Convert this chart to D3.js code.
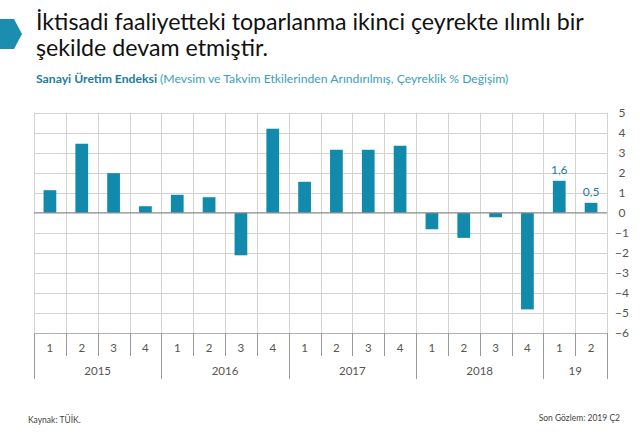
<!DOCTYPE html>
<html>
<head>
<meta charset="utf-8">
<script src="https://cdn.jsdelivr.net/npm/d3@7"></script>
<style>
  html, body { margin: 0; padding: 0; background: #fff; }
  svg { display: block; }
</style>
</head>
<body>
<svg id="chart" width="640" height="436"></svg>
<script>
const years = ["2015", "2016", "2017", "2018", "19"];
const quarters = ["1","2","3","4","1","2","3","4","1","2","3","4","1","2","3","4","1","2"];
const yearOfBar = [0,0,0,0,1,1,1,1,2,2,2,2,3,3,3,3,4,4];
const values = [1.13, 3.45, 1.98, 0.33, 0.9, 0.78, -2.12, 4.2, 1.55, 3.15, 3.15, 3.35, -0.82, -1.25, -0.22, -4.82, 1.6, 0.5];
const labeledBars = [16, 17];
const yTicks = [5,4,3,2,1,0,-1,-2,-3,-4,-5,-6];

const titleLines = ["İktisadi faaliyetteki toparlanma ikinci çeyrekte ılımlı bir", "şekilde devam etmiştir."];
const subtitleBold = "Sanayi Üretim Endeksi";
const subtitleRest = " (Mevsim ve Takvim Etkilerinden Arındırılmış, Çeyreklik % Değişim)";
const sourceText = "Kaynak: TÜİK.";
const lastObs = "Son Gözlem: 2019 Ç2";

const font = "Lato, 'Open Sans', sans-serif";
const teal = "#128aab";
const svg = d3.select("#chart");

// header arrow
svg.append("path")
  .attr("d", "M0,19 L14,19 L22,34 L14,49 L0,49 Z")
  .attr("fill", "#1b8db0");

svg.append("g").selectAll("text").data(titleLines).join("text")
  .attr("x", 36).attr("y", (d, i) => 30 + i * 26)
  .attr("font-family", font).attr("font-size", 23.2).attr("fill", "#111")
  .text(d => d);

const sub = svg.append("text").attr("x", 36).attr("y", 83)
  .attr("font-family", font).attr("font-size", 12.2);
sub.append("tspan").attr("fill", "#1a7c9c").attr("font-weight", "bold").text(subtitleBold);
sub.append("tspan").attr("fill", "#3aa0bd").text(subtitleRest);

const left = 34, right = 607;
const x = d3.scaleBand().domain(d3.range(values.length)).range([left, right]).paddingInner(0).paddingOuter(0);
const y = d3.scaleLinear().domain([-6, 5]).range([333, 112.7]);

const grid = svg.append("g");
// horizontal gridlines
grid.selectAll("line.h").data(yTicks.filter(t => t !== 0 && t !== -6)).join("line")
  .attr("x1", left).attr("x2", right)
  .attr("y1", d => Math.round(y(d)) + 0.5).attr("y2", d => Math.round(y(d)) + 0.5)
  .attr("stroke", "#d3d3d3").attr("stroke-width", 1);
// vertical gridlines
const bounds = d3.range(values.length + 1).map(i => i < values.length ? x(i) : right);
grid.selectAll("line.v").data(bounds).join("line")
  .attr("x1", d => Math.round(d) + 0.5).attr("x2", d => Math.round(d) + 0.5)
  .attr("y1", y(5)).attr("y2", y(-6))
  .attr("stroke", "#d3d3d3").attr("stroke-width", 1);

// bottom axis line
svg.append("line").attr("x1", left).attr("x2", right)
  .attr("y1", Math.round(y(-6)) + 0.5).attr("y2", Math.round(y(-6)) + 0.5)
  .attr("stroke", "#b0b0b0");

// bars
svg.append("g").selectAll("rect").data(values).join("rect")
  .attr("x", (d, i) => x(i) + x.bandwidth() * 0.3)
  .attr("width", x.bandwidth() * 0.4)
  .attr("y", d => y(Math.max(0, d)))
  .attr("height", d => Math.abs(y(d) - y(0)))
  .attr("fill", teal);

// zero line
svg.append("line").attr("x1", left).attr("x2", right)
  .attr("y1", y(0)).attr("y2", y(0))
  .attr("stroke", "#8a8a8a").attr("stroke-width", 1.2);

// right y axis labels
const yAxis = d3.axisRight(y).tickValues(yTicks).tickSize(0).tickPadding(0).tickFormat(d3.format("d"));
const ya = svg.append("g").attr("transform", `translate(${right + 10},0)`).call(yAxis);
ya.select(".domain").remove();
ya.selectAll("text").attr("font-family", font).attr("font-size", 12).attr("fill", "#555")
  .attr("text-anchor", "middle").attr("dx", 5);

// value labels
const fmt = v => d3.format(".1f")(v).replace(".", ",");
svg.append("g").selectAll("text").data(labeledBars).join("text")
  .attr("x", i => x(i) + x.bandwidth() / 2)
  .attr("y", i => y(values[i]) - 7)
  .attr("text-anchor", "middle")
  .attr("font-family", font).attr("font-size", 12).attr("fill", "#1a7c9c")
  .text(i => fmt(values[i]));

// category axis: quarters
const cat = svg.append("g");
cat.selectAll("text.q").data(quarters).join("text")
  .attr("x", (d, i) => x(i) + x.bandwidth() / 2)
  .attr("y", 352)
  .attr("text-anchor", "middle")
  .attr("font-family", font).attr("font-size", 11.5).attr("fill", "#555")
  .text(d => d);

// quarter separators (within years)
const qSep = d3.range(1, values.length).filter(i => yearOfBar[i] === yearOfBar[i - 1]);
cat.selectAll("line.q").data(qSep).join("line")
  .attr("x1", i => Math.round(x(i)) + 0.5).attr("x2", i => Math.round(x(i)) + 0.5)
  .attr("y1", 333).attr("y2", 356)
  .attr("stroke", "#9a9a9a");

// year separators
const ySep = d3.range(0, values.length + 1).filter(i => i === 0 || i === values.length || yearOfBar[i] !== yearOfBar[i - 1]);
cat.selectAll("line.y").data(ySep).join("line")
  .attr("x1", i => Math.round(i < values.length ? x(i) : right) + 0.5)
  .attr("x2", i => Math.round(i < values.length ? x(i) : right) + 0.5)
  .attr("y1", 333).attr("y2", 379)
  .attr("stroke", "#9a9a9a");

// year labels
cat.selectAll("text.y").data(years).join("text")
  .attr("x", (d, yi) => {
    const idx = yearOfBar.map((v, i) => v === yi ? i : -1).filter(i => i >= 0);
    return (x(idx[0]) + x(idx[idx.length - 1]) + x.bandwidth()) / 2;
  })
  .attr("y", 375)
  .attr("text-anchor", "middle")
  .attr("font-family", font).attr("font-size", 11.5).attr("fill", "#555")
  .text(d => d);

// footer
svg.append("text").attr("x", 28).attr("y", 423)
  .attr("font-family", font).attr("font-size", 8.5).attr("fill", "#444").text(sourceText);
svg.append("text").attr("x", 620).attr("y", 421).attr("text-anchor", "end")
  .attr("font-family", font).attr("font-size", 8.5).attr("fill", "#444").text(lastObs);
</script>
</body>
</html>
